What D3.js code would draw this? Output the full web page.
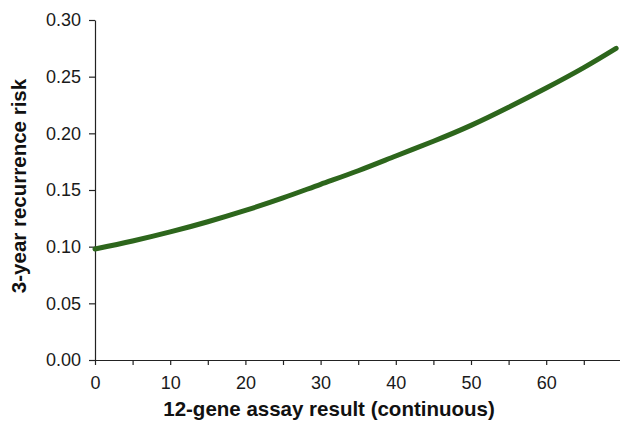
<!DOCTYPE html>
<html lang="en">

<head>
  <meta charset="UTF-8">
  <script src="https://d3js.org/d3.v7.min.js"></script>
  <style>
    html, body {
      padding: 0px;
      margin: 0px;
      background-color: white;
    }

    svg {
      display: block;
      font-family: "Liberation Sans", Arial, sans-serif;
    }

    .axis path,
    .axis line {
      stroke: #222;
      stroke-width: 1.2px;
    }

    .axis text {
      font-size: 18px;
      fill: #1a1a1a;
    }

    .axis-title {
      font-size: 20.5px;
      font-weight: bold;
      fill: #111;
    }
  </style>
</head>

<body>
  <svg id="plot-svg" width="620" height="423"></svg>

  <script>
    // assay result (x) and 3-year recurrence risk (y)
    const assayScores = [0, 5, 10, 15, 20, 25, 30, 35, 40, 45, 50, 55, 60, 65, 69.3];
    const recurrenceRisk = [0.098, 0.105, 0.113, 0.122, 0.132, 0.143, 0.155, 0.167, 0.180, 0.193, 0.207, 0.223, 0.240, 0.258, 0.275];

    const xTicks = [0, 5, 10, 15, 20, 25, 30, 35, 40, 45, 50, 55, 60, 65];
    const yTicks = [0, 0.05, 0.10, 0.15, 0.20, 0.25, 0.30];

    const svg = d3.select("#plot-svg");
    const margin = { top: 20, right: 0, bottom: 63, left: 95 };
    const width = +svg.attr("width");
    const height = +svg.attr("height");

    const xScale = d3.scaleLinear().domain([0, 70]).range([margin.left, margin.left + 70 * 7.52]);
    const yScale = d3.scaleLinear().domain([0, 0.30]).range([height - margin.bottom, margin.top]);

    // x axis - labels only every 10
    const bottomAxis = d3.axisBottom(xScale)
      .tickValues(xTicks)
      .tickSize(5)
      .tickSizeOuter(0)
      .tickPadding(11)
      .tickFormat(d => d % 10 === 0 ? d : "");
    svg.append("g")
      .attr("class", "axis")
      .attr("transform", `translate(0, ${height - margin.bottom})`)
      .call(bottomAxis);

    // y axis
    const leftAxis = d3.axisLeft(yScale)
      .tickValues(yTicks)
      .tickSize(6)
      .tickSizeOuter(0)
      .tickPadding(8)
      .tickFormat(d3.format(".2f"));
    svg.append("g")
      .attr("class", "axis")
      .attr("transform", `translate(${margin.left}, 0)`)
      .call(leftAxis);

    // the curve
    const line = d3.line()
      .x((d, i) => xScale(assayScores[i]))
      .y(d => yScale(d))
      .curve(d3.curveNatural);

    svg.append("path")
      .datum(recurrenceRisk)
      .attr("d", line)
      .attr("fill", "none")
      .attr("stroke", "#2d661c")
      .attr("stroke-width", 5)
      .attr("stroke-linecap", "round");

    // axis titles
    svg.append("text")
      .attr("class", "axis-title")
      .attr("x", 329)
      .attr("y", 416)
      .attr("text-anchor", "middle")
      .text("12-gene assay result (continuous)");

    svg.append("text")
      .attr("class", "axis-title")
      .attr("transform", `translate(26, 186) rotate(-90)`)
      .attr("text-anchor", "middle")
      .text("3-year recurrence risk");
  </script>
</body>

</html>
